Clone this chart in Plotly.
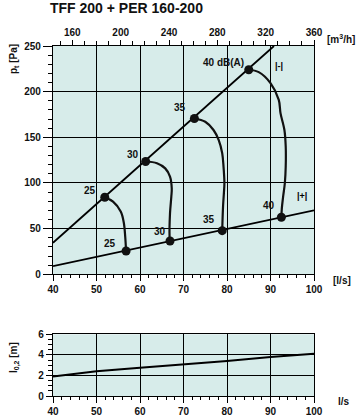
import plotly.graph_objects as go

# ---- data ----
title_text = "TFF 200 + PER 160-200"
sys_hi_x = [40, 90.8]
sys_hi_y = [34.6, 250]
sys_lo_x = [40, 100]
sys_lo_y = [9, 70]

pts_hi_x = [51.9, 61.3, 72.5, 85.0]
pts_hi_y = [84.4, 123.5, 170.6, 224]
pts_lo_x = [56.8, 66.9, 78.9, 92.5]
pts_lo_y = [25.5, 36.5, 47.8, 62.5]

c25_x = [51.9, 53.8, 55.6, 56.3, 56.6, 56.8]
c25_y = [84.4, 79.6, 68.6, 55.9, 41.2, 25.5]
c30_x = [61.3, 63.9, 65.8, 66.9, 67.3, 67.2, 66.9, 66.8, 66.9]
c30_y = [123.5, 121.7, 116, 107, 94, 85, 66.9, 41.2, 36.5]
c35_x = [72.5, 75, 76.9, 78.1, 78.9, 79.2, 79.4, 79.3, 79.1, 78.9]
c35_y = [170.6, 167, 158, 147, 132.6, 118, 100, 90, 75, 47.8]
c40_x = [85.0, 87.3, 90.0, 91.9, 92.3, 93.2, 93.5, 93.5, 93.3, 92.9, 92.6, 92.5]
c40_y = [224, 221.4, 209.4, 191, 176.5, 158, 140, 118, 100, 85, 72, 62.5]

lab_hi_text = ["25", "30", "35", "40 dB(A)"]
lab_hi_x = [48.5, 58.3, 69.2, 79.2]
lab_hi_y = [91.7, 130.8, 182.3, 232]
lab_lo_text = ["25", "30", "35", "40"]
lab_lo_x = [53.1, 64.5, 75.8, 89.6]
lab_lo_y = [34, 46.7, 59.5, 74.9]

throw_x = [40, 50, 60, 70, 80, 90, 100]
throw_y = [1.9, 2.4, 2.75, 3.05, 3.4, 3.8, 4.12]

x_ticks = [40, 50, 60, 70, 80, 90, 100]
top_ticks = [160, 200, 240, 280, 320, 360]
y_ticks = [0, 50, 100, 150, 200, 250]
y2_ticks = [0, 2, 4, 6]

FONT = "Liberation Sans"
BG = "#d7ecea"
INK = "#111111"

fig = go.Figure()
lw = dict(color="black", width=1.8)
fig.add_trace(go.Scatter(x=sys_hi_x, y=sys_hi_y, mode="lines", line=lw, xaxis="x", yaxis="y"))
fig.add_trace(go.Scatter(x=sys_lo_x, y=sys_lo_y, mode="lines", line=lw, xaxis="x", yaxis="y"))
for cx, cy in [(c25_x, c25_y), (c30_x, c30_y), (c35_x, c35_y), (c40_x, c40_y)]:
    fig.add_trace(go.Scatter(x=cx, y=cy, mode="lines", line=dict(color=INK, width=2.2, shape="spline"),
                             xaxis="x", yaxis="y"))
fig.add_trace(go.Scatter(x=pts_hi_x + pts_lo_x, y=pts_hi_y + pts_lo_y, mode="markers",
                         marker=dict(color=INK, size=9), xaxis="x", yaxis="y"))
fig.add_trace(go.Scatter(x=throw_x, y=throw_y, mode="lines", line=dict(color="black", width=2),
                         xaxis="x2", yaxis="y2"))
fig.add_trace(go.Scatter(x=[144, 360], y=[0, 0], mode="lines", line=dict(width=0),
                         xaxis="x3", yaxis="y", hoverinfo="skip"))

tickfont = dict(family=FONT, size=10, color=INK, weight="bold")
common = dict(showline=True, linecolor="black", linewidth=1.2, mirror=True,
              gridcolor="black", gridwidth=1, zeroline=False, tickfont=tickfont,
              ticks="outside", tickcolor="black", tickwidth=1, automargin=False)

fig.update_layout(
    width=362, height=419,
    margin=dict(l=53, r=48, t=46, b=23, autoexpand=False),
    paper_bgcolor="white", plot_bgcolor=BG,
    showlegend=False,
    font=dict(family=FONT, color=INK),
    title=dict(text=title_text, x=50 / 362, xanchor="left", xref="container",
               y=1 - 8 / 419, yanchor="middle", yref="container",
               font=dict(family=FONT, size=14, color=INK, weight="bold")),
    xaxis=dict(domain=[0, 1], range=[40, 100], anchor="y", tickvals=x_ticks, ticklen=6,
               minor=dict(dtick=2, tick0=40, ticks="outside", ticklen=3, tickcolor="black", showgrid=False),
               **common),
    yaxis=dict(domain=[0.3477, 1], range=[0, 250], anchor="x", tickvals=y_ticks, ticklen=9,
               minor=dict(dtick=10, tick0=0, ticks="outside", ticklen=4, tickcolor="black", showgrid=False),
               **common),
    xaxis3=dict(overlaying="x", side="top", range=[144, 360], anchor="y", showgrid=False,
                tickmode="array", tickvals=top_ticks, ticklen=5, zeroline=False, automargin=False,
                ticks="outside", tickcolor="black", tickfont=tickfont,
                minor=dict(dtick=10, tick0=150, ticks="outside", ticklen=4, tickcolor="black")),
    xaxis2=dict(domain=[0, 1], range=[40, 100], anchor="y2", tickvals=x_ticks, ticklen=6,
                minor=dict(dtick=2, tick0=40, ticks="outside", ticklen=3, tickcolor="black", showgrid=False),
                **common),
    yaxis2=dict(domain=[0, 0.1763], range=[0, 6], anchor="x2", tickvals=y2_ticks, ticklen=6,
                minor=dict(dtick=0.5, tick0=0, ticks="outside", ticklen=4, tickcolor="black", showgrid=False),
                **common),
)

lab_font = dict(family=FONT, size=10, color=INK, weight="bold")
ann = []
for t, x, y in zip(lab_hi_text + lab_lo_text, lab_hi_x + lab_lo_x, lab_hi_y + lab_lo_y):
    ann.append(dict(text=t, x=x, y=y, xref="x", yref="y", showarrow=False, font=lab_font))
ann.append(dict(text="|-|", x=91.9, y=227.6, xref="x", yref="y", showarrow=False,
                font=dict(family=FONT, size=9, color="black", weight="bold")))
ann.append(dict(text="|+|", x=97.3, y=85.9, xref="x", yref="y", showarrow=False,
                font=dict(family=FONT, size=9, color="black", weight="bold")))

# paper-pixel helpers: plot area x 53..314, y 46..396
def px(xp):
    return (xp - 53) / 261.0
def py(yp):
    return (396 - yp) / 350.0

extra = [
    dict(text="[m<sup>3</sup>/h]", x=px(325), y=py(31), xanchor="left", font=lab_font),
    dict(text="[l/s]", x=px(331), y=py(288), xanchor="left", font=lab_font),
    dict(text="l/s", x=px(336), y=py(409), xanchor="left", font=lab_font),
    dict(text="p<sub>t</sub> [Pa]", x=px(6), y=py(42), xanchor="left", yanchor="top",
         textangle=-90, font=lab_font),
    dict(text="l<sub>0,2</sub> [m]", x=px(6), y=py(340), xanchor="left", yanchor="top",
         textangle=-90, font=lab_font),
]
for e in extra:
    e.update(xref="paper", yref="paper", showarrow=False)
    ann.append(e)
fig.update_layout(annotations=ann)

fig.write_html("out.html", config={"displayModeBar": False},
               post_script="document.body.style.margin='0';document.body.style.overflow='hidden';")
